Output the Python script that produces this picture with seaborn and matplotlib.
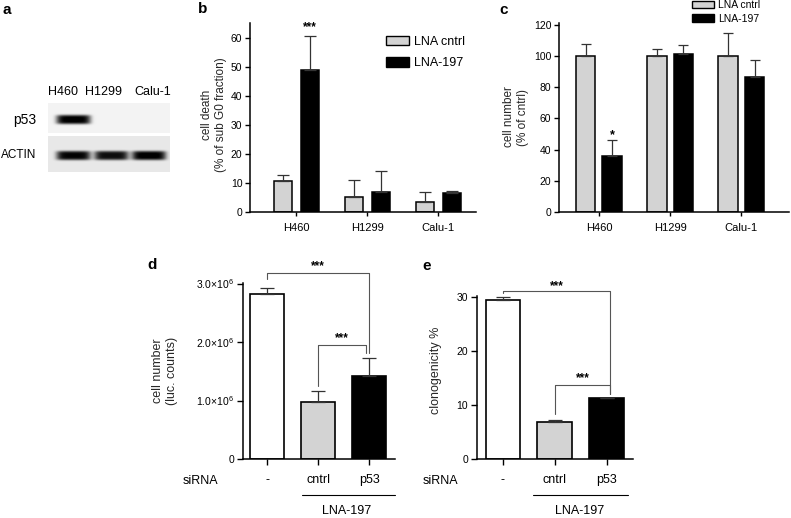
import numpy as np
import pandas as pd
import matplotlib
matplotlib.use('Agg')
import matplotlib.pyplot as plt
import matplotlib.transforms as mtransforms
from matplotlib.patches import Patch
from matplotlib.ticker import FuncFormatter
import seaborn as sns

# a: western blot, relative band intensity per lane
blot_lanes = ['H460', 'H1299', 'Calu-1']
p53_signal = [0.97, 0.0, 0.0]
actin_signal = [0.9, 0.86, 0.93]

# b: cell death (% of sub G0 fraction)
cell_lines = ['H460', 'H1299', 'Calu-1']
treatments = ['LNA cntrl', 'LNA-197']
death_cntrl = [10.5, 5.2, 3.4]
death_cntrl_err = [2.1, 5.9, 3.6]
death_197 = [48.7, 6.9, 6.6]
death_197_err = [11.8, 7.2, 0.6]

# c: cell number (% of cntrl)
number_cntrl = [100, 100, 100]
number_cntrl_err = [7.7, 4.3, 14.9]
number_197 = [35.7, 101.3, 86.4]
number_197_err = [10.3, 5.9, 10.6]

# d / e: siRNA groups
sirna_groups = ['-', 'cntrl', 'p53']
luc_counts = [2.82e6, 0.97e6, 1.42e6]
luc_counts_err = [0.11e6, 0.185e6, 0.31e6]
clonogenicity = [29.4, 6.75, 11.2]
clonogenicity_err = [0.6, 0.5, 0.0]

pal_lna = {'LNA cntrl': '#d3d3d3', 'LNA-197': 'black'}
pal_sirna = ['white', '#d3d3d3', 'black']

sns.set_theme(style='ticks')
plt.rcParams['font.family'] = ['Liberation Sans', 'DejaVu Sans']
plt.rcParams['mathtext.fontset'] = 'custom'
plt.rcParams['mathtext.rm'] = 'Liberation Sans'
plt.rcParams['mathtext.it'] = 'Liberation Sans'
plt.rcParams['axes.linewidth'] = 1.1
plt.rcParams['axes.edgecolor'] = 'black'
plt.rcParams['xtick.color'] = 'black'
plt.rcParams['ytick.color'] = 'black'
plt.rcParams['text.color'] = 'black'

W, H = 791, 518
fig = plt.figure(figsize=(W / 100, H / 100), dpi=100)
# pixel coordinates, origin top-left
px = mtransforms.Affine2D().scale(1 / W, -1 / H).translate(0, 1) + fig.transFigure


def add_ax(l, t, r, b):
    return fig.add_axes([l / W, 1 - b / H, (r - l) / W, (b - t) / H])


def up_errorbars(ax, xs, vals, errs, capsize):
    ax.errorbar(xs, vals, yerr=[np.zeros(len(vals)), errs], fmt='none',
                ecolor='#333333', elinewidth=0.9, capsize=capsize, capthick=0.9,
                zorder=1)


def bracket(ax, x0, x1, y, y0, y1, text, ty):
    ax.plot([x0, x0, x1, x1], [y0, y, y, y1], color='#555555', lw=0.8,
            clip_on=False, zorder=3)
    ax.text((x0 + x1) / 2, ty, text, ha='center', va='center', fontsize=8.5,
            fontweight='bold', clip_on=False)


# ---------------- a: blot ----------------
def blot_image(signal, ny, yc, bg):
    nx = 122
    xs = np.arange(nx)[None, :]
    ys = np.arange(ny)[:, None]
    centers = [25, 63, 100.5]
    img = np.full((ny, nx), bg)
    for c, s in zip(centers, signal):
        img = img + s * np.exp(-((xs - c) / 17.0) ** 6) * np.exp(-((ys - yc) / 4.6) ** 4)
    return np.clip(img, 0, 1)


ax_p53 = add_ax(48, 103, 170, 133)
ax_p53.imshow(blot_image(p53_signal, 30, 16, 0.05), cmap='gray_r', vmin=0, vmax=1,
              aspect='auto', interpolation='bilinear')
ax_act = add_ax(48, 136, 170, 172)
ax_act.imshow(blot_image(actin_signal, 36, 19, 0.09), cmap='gray_r', vmin=0, vmax=1,
              aspect='auto', interpolation='bilinear')
for a in (ax_p53, ax_act):
    a.set_xticks([])
    a.set_yticks([])
    for s in a.spines.values():
        s.set_visible(False)

for name, x in zip(blot_lanes, [63, 103, 153]):
    fig.text(x, 92, name, transform=px, ha='center', va='center', fontsize=9)
fig.text(25, 120, 'p53', transform=px, ha='center', va='center', fontsize=10)
fig.text(19, 155, 'ACTIN', transform=px, ha='center', va='center', fontsize=8.5)


# ---------------- b & c: LNA bar charts ----------------
def lna_panel(ax, cntrl, cntrl_err, lna, lna_err, width, gap, capsize):
    df = pd.DataFrame({
        'line': cell_lines * 2,
        'treatment': [treatments[0]] * 3 + [treatments[1]] * 3,
        'value': cntrl + lna,
    })
    sns.barplot(data=df, x='line', y='value', hue='treatment', hue_order=treatments,
                palette=pal_lna, width=width, gap=gap, edgecolor='black',
                linewidth=1.1, errorbar=None, legend=False, ax=ax)
    conts = list(ax.containers)
    centers = []
    for cont, vals, errs in zip(conts, [cntrl, lna], [cntrl_err, lna_err]):
        xs = [p.get_x() + p.get_width() / 2 for p in cont]
        centers.append(xs)
        up_errorbars(ax, xs, vals, errs, capsize)
    ax.set_xlabel('')
    ax.tick_params(axis='x', labelsize=8, length=3, width=1, pad=5)
    ax.tick_params(axis='y', labelsize=7.5, length=3.5, width=1, pad=2)
    sns.despine(ax=ax)
    return centers


ax_b = add_ax(250, 23, 476, 212)
cb = lna_panel(ax_b, death_cntrl, death_cntrl_err, death_197, death_197_err, 0.76, 0.33, 4.5)
ax_b.set_xlim(-0.65, 2.53)
ax_b.set_ylim(0, 65)
ax_b.set_yticks(range(0, 61, 10))
ax_b.set_ylabel('cell death\n(% of sub G0 fraction)', fontsize=8.5, va='center', linespacing=1.15)
ax_b.yaxis.set_label_coords(214, 115, transform=px)
ax_b.text(cb[1][0], 63.5, '***', ha='center', va='center', fontsize=8.5, fontweight='bold')
ax_b.legend([Patch(facecolor=pal_lna[t], edgecolor='black', lw=1) for t in treatments],
            treatments, loc='upper left', bbox_to_anchor=(386, 36), bbox_transform=px,
            frameon=False, fontsize=9, handlelength=1.85, handleheight=0.75,
            handletextpad=0.4, labelspacing=0.75, borderpad=0, borderaxespad=0)

ax_c = add_ax(559, 23, 789, 212)
cc = lna_panel(ax_c, number_cntrl, number_cntrl_err, number_197, number_197_err, 0.745, 0.26, 3.8)
ax_c.set_xlim(-0.56, 2.67)
ax_c.set_ylim(0, 121)
ax_c.set_yticks(range(0, 121, 20))
ax_c.set_ylabel('cell number\n(% of cntrl)', fontsize=8.5, va='center', linespacing=1.15)
ax_c.yaxis.set_label_coords(516, 117, transform=px)
ax_c.text(cc[1][0], 49.5, '*', ha='center', va='center', fontsize=9, fontweight='bold')
ax_c.legend([Patch(facecolor=pal_lna[t], edgecolor='black', lw=1) for t in treatments],
            treatments, loc='upper left', bbox_to_anchor=(692, 0), bbox_transform=px,
            frameon=False, fontsize=7.5, handlelength=2.1, handleheight=0.75,
            handletextpad=0.4, labelspacing=0.35, borderpad=0, borderaxespad=0)


# ---------------- d & e: siRNA bar charts ----------------
def sirna_panel(ax, vals, errs):
    sns.barplot(x=sirna_groups, y=vals, hue=sirna_groups, palette=pal_sirna,
                width=0.67, edgecolor='black', linewidth=1.2, errorbar=None,
                legend=False, ax=ax)
    up_errorbars(ax, range(len(vals)), vals, errs, 5)
    ax.set_xlim(-0.5, 2.51)
    ax.tick_params(axis='x', labelsize=9, length=4, width=1, pad=7)
    ax.tick_params(axis='y', labelsize=7.5, length=4.5, width=1, pad=2)
    sns.despine(ax=ax)


def sci_fmt(v, pos):
    return '0' if v == 0 else f'{v / 1e6:.1f}×10$^{{6}}$'


ax_d = add_ax(243, 283, 395, 459)
sirna_panel(ax_d, luc_counts, luc_counts_err)
ax_d.set_xlim(-0.48, 2.51)
ax_d.set_ylim(0, 3.01e6)
ax_d.set_yticks([0, 1e6, 2e6, 3e6])
ax_d.yaxis.set_major_formatter(FuncFormatter(sci_fmt))
ax_d.set_ylabel('cell number\n(luc. counts)', fontsize=9, va='center', linespacing=1.15)
ax_d.yaxis.set_label_coords(165, 371, transform=px)
bracket(ax_d, 0, 2.0, 3.18e6, 3.08e6, 1.82e6, '***', 3.30e6)
bracket(ax_d, 1, 1.94, 1.95e6, 1.24e6, 1.82e6, '***', 2.07e6)

ax_e = add_ax(477, 296, 633, 459)
sirna_panel(ax_e, clonogenicity, clonogenicity_err)
ax_e.set_ylim(0, 30.1)
ax_e.set_yticks([0, 10, 20, 30])
ax_e.set_ylabel('clonogenicity %', fontsize=9, va='center')
ax_e.yaxis.set_label_coords(436, 370, transform=px)
bracket(ax_e, 0, 2.07, 31.1, 30.6, 12.05, '***', 32.0)
bracket(ax_e, 1, 2.07, 13.7, 8.4, 12.05, '***', 14.9)

# siRNA / LNA-197 group annotations
for sx, (u0, u1), lx in [(200, (302, 395), 347), (440, (533, 628), 580)]:
    fig.text(sx, 481.5, 'siRNA', transform=px, ha='center', va='center', fontsize=9)
    fig.add_artist(plt.Line2D([u0, u1], [495, 495], transform=px, color='black', lw=0.8))
    fig.text(lx, 510.5, 'LNA-197', transform=px, ha='center', va='center', fontsize=9)

# panel letters
for letter, x, y in [('a', 7, 10), ('b', 203, 9), ('c', 504, 10), ('d', 152, 265), ('e', 427, 266)]:
    fig.text(x, y, letter, transform=px, ha='center', va='center', fontsize=11, fontweight='bold')

fig.savefig('out.png', dpi=100)
